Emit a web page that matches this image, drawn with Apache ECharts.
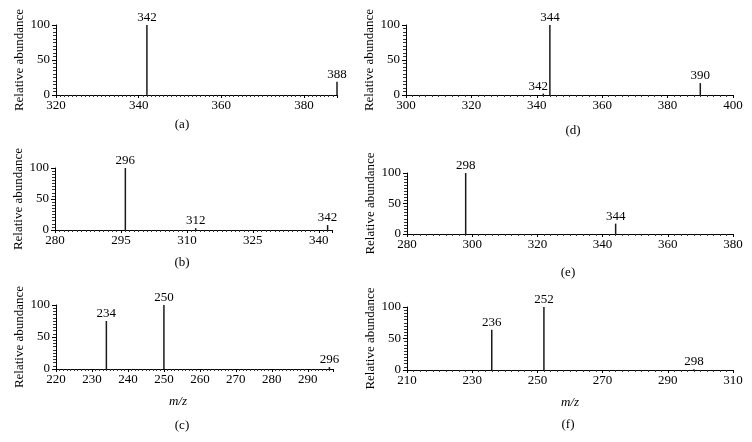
<!DOCTYPE html>
<html>
<head>
<meta charset="utf-8">
<script src="https://cdn.jsdelivr.net/npm/echarts@6/dist/echarts.min.js"></script>
<style>
  html, body { margin: 0; padding: 0; background: #fff; }
  #chart { width: 752px; height: 442px; }
</style>
</head>
<body>
<div id="chart"></div>
<script>
// peaks per panel: m/z, relative abundance, peak labels
var mzA = [342, 388];
var abA = [100, 19];
var labA = ['342', '388'];

var mzB = [296, 312, 342];
var abB = [100, 3, 8];
var labB = ['296', '312', '342'];

var mzC = [234, 250, 296];
var abC = [75, 100, 3];
var labC = ['234', '250', '296'];

var mzD = [342, 344, 390];
var abD = [2, 100, 17];
var labD = ['342', '344', '390'];

var mzE = [298, 344];
var abE = [100, 17];
var labE = ['298', '344'];

var mzF = [236, 252, 298];
var abF = [64, 100, 1];
var labF = ['236', '252', '298'];

var yTicks = [0, 50, 100];
var captions = ['(a)', '(b)', '(c)', '(d)', '(e)', '(f)'];

var serif = 'Liberation Serif';

function pairs(xs, ys) {
    var out = [];
    xs.forEach(function(x, i) {
        out.push([x, ys[i]]);
    });
    return out;
}

// layout of the six small plots
var panels = [
    {mz: mzA, ab: abA, lab: labA, grid: {left: 56, top: 25, width: 281, height: 70}, min: 320, max: 388, interval: 20, minor: 20},
    {mz: mzB, ab: abB, lab: labB, grid: {left: 55, top: 168, width: 277, height: 62}, min: 280, max: 343, interval: 15, minor: 15},
    {mz: mzC, ab: abC, lab: labC, grid: {left: 56, top: 305, width: 277, height: 64}, min: 220, max: 297, interval: 10, minor: 10, mz_title: true, shift: 33},
    {mz: mzD, ab: abD, lab: labD, grid: {left: 406, top: 25, width: 327, height: 70}, min: 300, max: 400, interval: 20, minor: 10},
    {mz: mzE, ab: abE, lab: labE, grid: {left: 407, top: 173, width: 326, height: 61}, min: 280, max: 380, interval: 20, minor: 10},
    {mz: mzF, ab: abF, lab: labF, grid: {left: 407, top: 307, width: 326, height: 63}, min: 210, max: 310, interval: 20, minor: 10, mz_title: true, shift: 0}
];

var grids = [], xAxes = [], yAxes = [], series = [];

panels.forEach(function(p, i) {
    grids.push(p.grid);
    xAxes.push({
        type: 'value',
        gridIndex: i,
        min: p.min,
        max: p.max,
        interval: p.interval,
        splitLine: {show: false},
        axisLine: {lineStyle: {color: '#000', width: 1}},
        axisTick: {show: true, length: 3, lineStyle: {color: '#000'}},
        minorTick: {show: true, splitNumber: p.minor, length: 2, lineStyle: {color: '#333'}},
        axisLabel: {
            color: '#000', fontFamily: serif, fontSize: 13, margin: 4,
            showMaxLabel: (p.max - p.min) % p.interval === 0
        },
        name: p.mz_title ? 'm/z' : '',
        nameLocation: 'middle',
        nameGap: 26,
        nameTextStyle: {color: '#000', fontFamily: serif, fontSize: 13, fontStyle: 'italic', padding: [0, p.shift || 0, 0, 0]}
    });
    yAxes.push({
        type: 'value',
        gridIndex: i,
        min: yTicks[0],
        max: yTicks[yTicks.length - 1],
        interval: yTicks[1] - yTicks[0],
        splitLine: {show: false},
        axisLine: {show: true, lineStyle: {color: '#000', width: 1}},
        axisTick: {show: true, length: 4, lineStyle: {color: '#000'}},
        minorTick: {show: true, splitNumber: 10, length: 3, lineStyle: {color: '#333'}},
        axisLabel: {color: '#000', fontFamily: serif, fontSize: 13, margin: 6},
        name: 'Relative abundance',
        nameLocation: 'middle',
        nameGap: 30,
        nameTextStyle: {color: '#000', fontFamily: serif, fontSize: 13}
    });
    var labels = p.lab;
    series.push({
        type: 'bar',
        xAxisIndex: i,
        yAxisIndex: i,
        barWidth: 1.5,
        itemStyle: {color: '#1a1a1a'},
        data: pairs(p.mz, p.ab).map(function(d, k) {
            var item = {value: d};
            // label of the small 342 peak in (d) sits left of the 344 line
            if (i === 3 && k === 0) {
                item.label = {offset: [-5, 0]};
            }
            return item;
        }),
        label: {
            show: true,
            position: 'top',
            distance: 1,
            color: '#000',
            fontFamily: serif,
            fontSize: 13,
            formatter: function(q) { return labels[q.dataIndex]; }
        },
        silent: true
    });
});

var capPos = [[182, 125], [182, 263], [182, 426], [573, 131], [568, 273], [568, 425]];
var graphics = captions.map(function(c, i) {
    return {
        type: 'text',
        x: capPos[i][0],
        y: capPos[i][1],
        style: {text: c, fill: '#000', font: '13px "Liberation Serif"', textAlign: 'center', textVerticalAlign: 'middle'}
    };
});

var chart = echarts.init(document.getElementById('chart'));
chart.setOption({
    animation: false,
    backgroundColor: '#fff',
    grid: grids,
    xAxis: xAxes,
    yAxis: yAxes,
    series: series,
    graphic: graphics
});
</script>
</body>
</html>
